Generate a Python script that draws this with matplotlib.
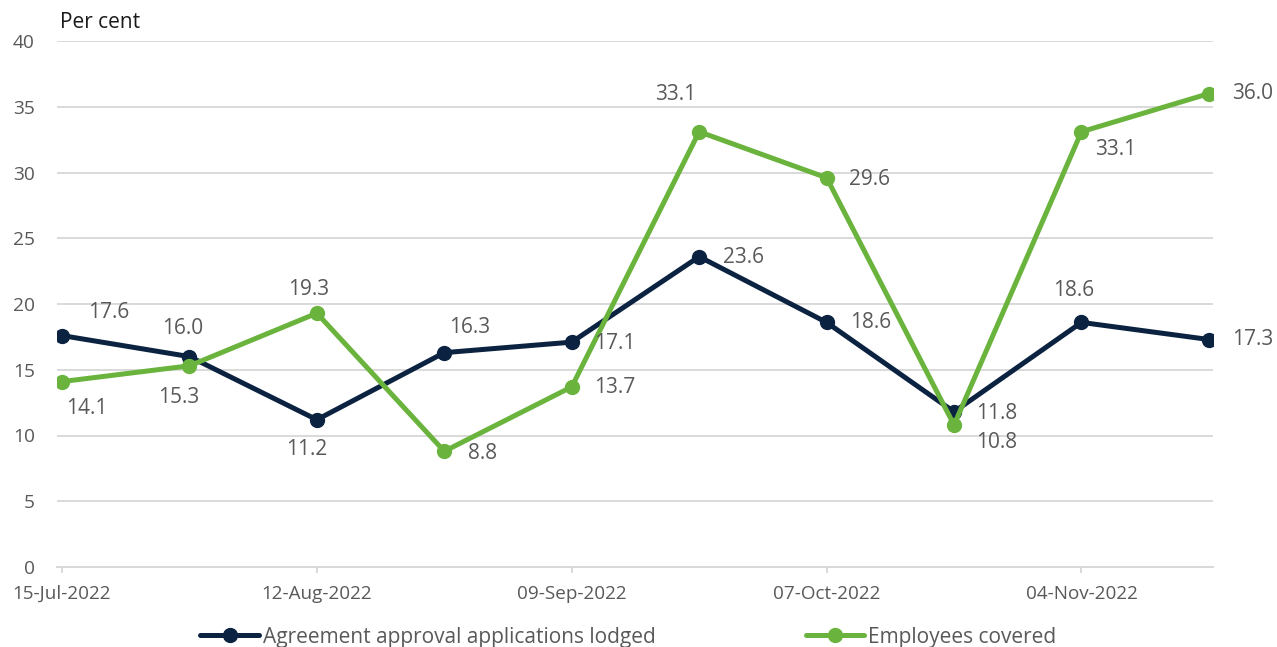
import numpy as np
import matplotlib
matplotlib.use("Agg")
import matplotlib.pyplot as plt
import matplotlib.dates as mdates

plt.rcParams['font.family'] = ['Open Sans', 'DejaVu Sans']

# data
dates = np.array(['2022-07-15', '2022-07-29', '2022-08-12', '2022-08-26', '2022-09-09',
                  '2022-09-23', '2022-10-07', '2022-10-21', '2022-11-04', '2022-11-18'],
                 dtype='datetime64[D]')
applications = [17.6, 16.0, 11.2, 16.3, 17.1, 23.6, 18.6, 11.8, 18.6, 17.3]
employees = [14.1, 15.3, 19.3, 8.8, 13.7, 33.1, 29.6, 10.8, 33.1, 36.0]
tick_dates = np.array(['2022-07-15', '2022-08-12', '2022-09-09', '2022-10-07', '2022-11-04'],
                      dtype='datetime64[D]')
tick_labels = ['15-Jul-2022', '12-Aug-2022', '09-Sep-2022', '07-Oct-2022', '04-Nov-2022']
series_names = ['Agreement approval applications lodged', 'Employees covered']

# label offsets (pixels, label centre relative to point)
app_off = [(47, -23), (-7, -28), (-10, 30), (25, -25), (43, 1),
           (44, 1), (44, 0), (43, 2), (-8, -32), (44, 0)]
emp_off = [(25, 27), (-11, 32), (-8, -24), (38, 2), (43, 1),
           (-24, -37), (43, 2), (43, 18), (34, 18), (44, 0)]

navy = '#0B2341'
green = '#6AB43E'
grey_txt = '#595959'
fs = 15

fig = plt.figure(figsize=(12.77, 6.47), dpi=100)
ax = fig.add_axes([57 / 1277, 80 / 647, 1156 / 1277, 526 / 647])

x = dates.astype('datetime64[ms]').astype(object)
l1, = ax.plot(x, applications, color=navy, lw=3.6, marker='o', ms=10, zorder=3,
              solid_capstyle='round', label=series_names[0])
l2, = ax.plot(x, employees, color=green, lw=3.6, marker='o', ms=10, zorder=4,
              solid_capstyle='round', label=series_names[1])

for xs, vals, offs in [(x, applications, app_off), (x, employees, emp_off)]:
    for xi, v, (dx, dy) in zip(xs, vals, offs):
        ax.annotate(f"{v:.1f}", (xi, v), xytext=(dx * 0.72, -dy * 0.72),
                    textcoords='offset points', ha='center', va='center',
                    fontsize=fs, color=grey_txt, zorder=5)

x0 = mdates.date2num(dates[0].astype('datetime64[ms]').astype(object))
x1 = mdates.date2num(dates[-1].astype('datetime64[ms]').astype(object))
ax.set_xlim(x0 - 0.55, x1 + 0.45)
ax.set_ylim(0, 40)
ax.set_yticks(np.arange(0, 41, 5))
ax.set_xticks(tick_dates.astype('datetime64[ms]').astype(object))
ax.set_xticklabels(tick_labels)

ax.grid(axis='y', color='#D9D9D9', lw=1.4)
ax.set_axisbelow(True)
for s in ['top', 'right', 'left']:
    ax.spines[s].set_visible(False)
ax.spines['bottom'].set_color('#D9D9D9')
ax.spines['bottom'].set_linewidth(1.4)
ax.tick_params(axis='y', length=0, pad=16, labelsize=13.8, labelcolor=grey_txt)
ax.tick_params(axis='x', length=4, width=1.4, color='#D9D9D9', pad=9,
               labelsize=13.6, labelcolor=grey_txt)

fig.text(60 / 1277, 1 - 22 / 647, 'Per cent', fontsize=fs, color='#1A1A1A',
         ha='left', va='center')

fig.legend(handles=[l1, l2], loc='center', bbox_to_anchor=(0.492, 10 / 647),
           ncol=2, frameon=False, fontsize=fs, handlelength=2.8,
           handletextpad=0.2, columnspacing=7.2, labelcolor=grey_txt)

fig.savefig('out.png', dpi=100)
